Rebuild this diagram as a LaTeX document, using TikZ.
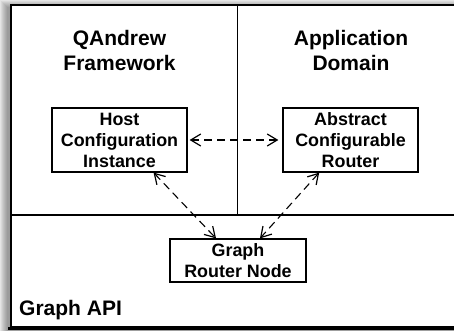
\documentclass[tikz,border=0pt]{standalone}
\usepackage{fontspec}
\setmainfont{Liberation Sans}
\usetikzlibrary{arrows.meta,calc}
\begin{document}
\begin{tikzpicture}[x=1pt,y=1pt,
  comp/.style={draw, line width=1.2pt, fill=white, align=center, inner sep=0pt,
    font=\fontsize{17.9}{21}\selectfont\bfseries},
  title/.style={align=center, inner sep=0pt, font=\fontsize{21}{25}\selectfont\bfseries},
  link/.style={line width=1.1pt, dash pattern=on 8pt off 5pt,
    {Straight Barb[length=10pt,width=12pt,line width=1.2pt]}-{Straight Barb[length=10pt,width=12pt,line width=1.2pt]}}]
\useasboundingbox (0,0) rectangle (454,330);
\clip (0,0) rectangle (454,330);
\fill[white] (0,0) rectangle (454,330);
% soft drop shadow behind the frame
\foreach \r in {1,...,9}
  \fill[black, opacity=0.05] (8-\r,0-\r) rectangle (470,322+\r);
% outer frame and layer dividers
\draw[line width=1.6pt, fill=white] (11,3) rectangle (470,325);
\draw[line width=3pt] (8,1.5) -- (470,1.5);
\coordinate (dl) at (11,115);
\coordinate (dr) at (470,115);
\coordinate (vt) at (237.5,325);
\coordinate (vb) at (237.5,115);
\draw[line width=1.2pt] (dl) -- (dr);
\draw[line width=1.2pt] (vt) -- (vb);
% layer titles
\node[title] (qa) at (119.5,279.3) {QAndrew\\Framework};
\node[title] (ad) at (351,279.3) {Application\\Domain};
\node[title, anchor=base west] (api) at (19,15) {Graph API};
% components
\node[comp, minimum width=135pt, minimum height=64pt] (host) at (119.5,190)
  {Host\\Configuration\\Instance};
\node[comp, minimum width=135pt, minimum height=64pt] (abs) at (350.5,190)
  {Abstract\\Configurable\\Router};
\node[comp, minimum width=136pt, minimum height=43pt] (grn) at (238,69.5)
  {Graph\\Router Node};
% dependencies
\draw[link] ([xshift=2pt]host.east) -- ([xshift=-4pt]abs.west);
\draw[link] ($(host.south west)!0.75!(host.south east)$) --
  ($(grn.north west)!0.34!(grn.north east)$);
\draw[link] ($(abs.south west)!0.27!(abs.south east)$) --
  ($(grn.north west)!0.66!(grn.north east)$);
\end{tikzpicture}
\end{document}
